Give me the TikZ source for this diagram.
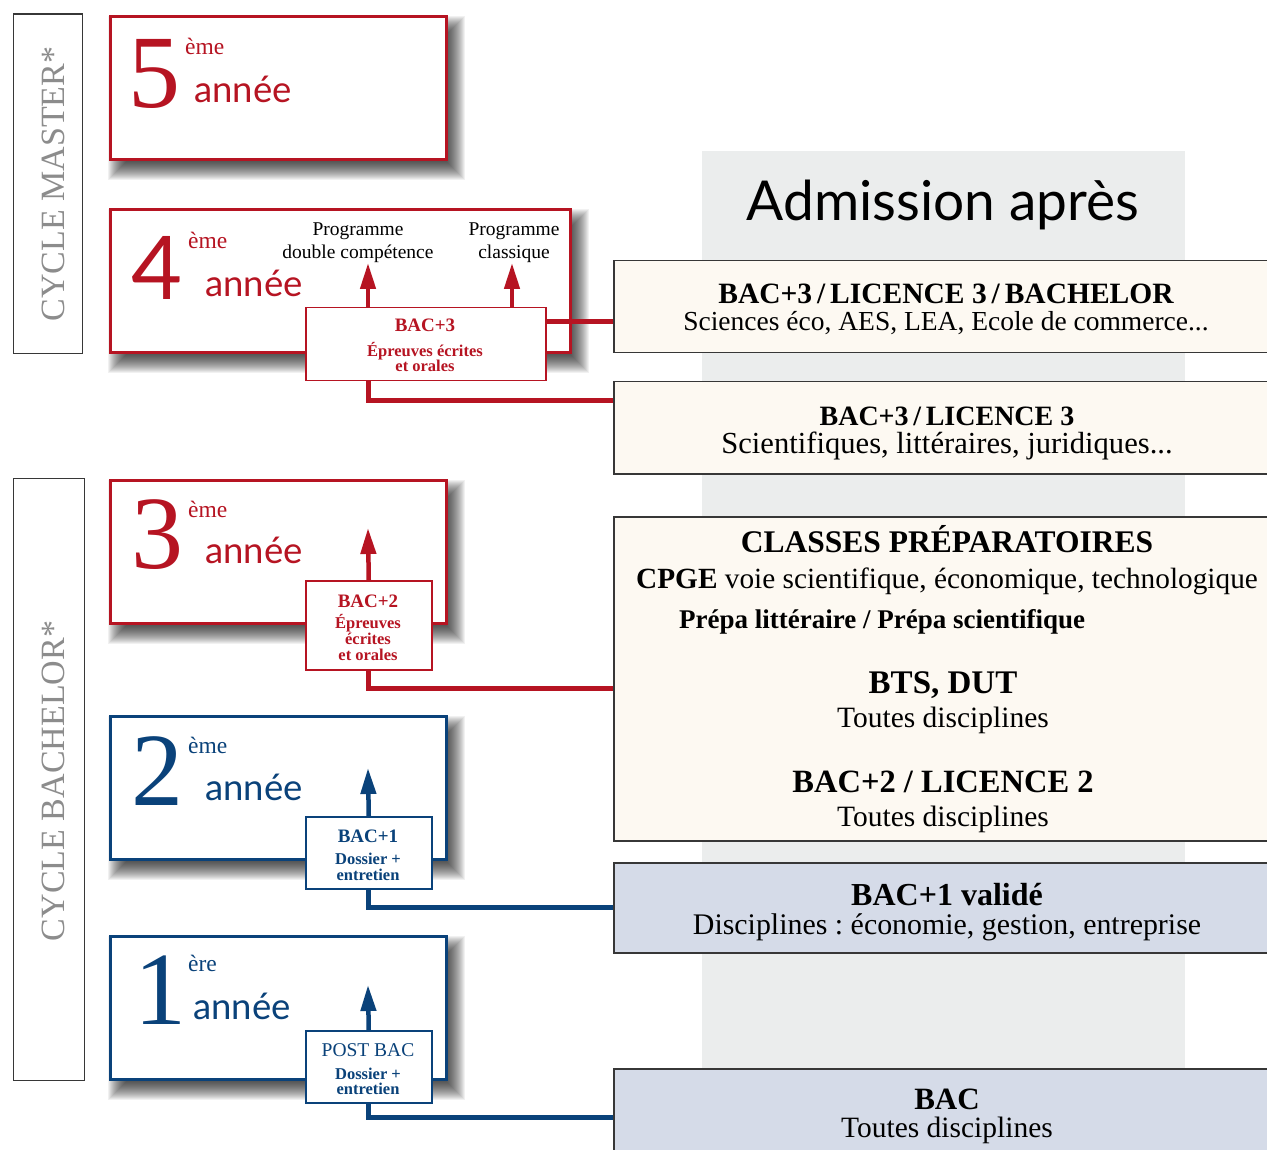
\documentclass[tikz,border=0pt]{standalone}
\usepackage{fontspec}
\setmainfont{Liberation Serif}
\newfontfamily\sansf{Lato}
\usetikzlibrary{arrows.meta,calc}
\definecolor{cred}{RGB}{182,20,34}
\definecolor{cblue}{RGB}{10,66,122}
\definecolor{cgraytxt}{RGB}{140,140,140}
\definecolor{cframe}{RGB}{55,55,55}
\definecolor{ccream}{RGB}{253,249,242}
\definecolor{cbluegray}{RGB}{213,219,232}
\definecolor{ccol}{RGB}{235,237,237}
\frenchspacing
\newcommand\fsz[1]{\fontsize{#1}{#1}\selectfont}
\pgfdeclarelayer{colL}
\pgfdeclarelayer{shadowL}
\pgfsetlayers{colL,shadowL,main}
\newcommand\boxshadow[1]{%
  \foreach \k in {-9,-8,...,9}{%
    \fill[black,opacity=0.055] ($(#1.north west)+(8+\k,10+\k)$) rectangle ($(#1.south east)+(8-\k,10-\k)$);
  }}
\tikzset{
  yearred/.style={draw=cred, line width=3pt, fill=white, anchor=north west, inner sep=0pt},
  yearblue/.style={draw=cblue, line width=3pt, fill=white, anchor=north west, inner sep=0pt},
  lblred/.style={draw=cred, line width=1.5pt, fill=white, anchor=north west, inner sep=0pt},
  lblblue/.style={draw=cblue, line width=1.5pt, fill=white, anchor=north west, inner sep=0pt},
  cyclebox/.style={draw=cframe, line width=1.2pt, fill=white, anchor=north west, inner sep=0pt},
  rbox/.style={draw=cframe, line width=1.5pt, anchor=north west, inner sep=0pt},
  txt/.style={anchor=base, inner sep=0pt},
  txtl/.style={anchor=base west, inner sep=0pt},
  linkred/.style={draw=cred, line width=5pt},
  linkblue/.style={draw=cblue, line width=5pt},
  uparrowred/.style={draw=cred, line width=4.5pt, -{Triangle[width=15pt,length=26pt]}},
  uparrowblue/.style={draw=cblue, line width=4.5pt, -{Triangle[width=15pt,length=26pt]}},
}
\begin{document}
\begin{tikzpicture}[x=1pt,y=-1pt]
\useasboundingbox (0,0) rectangle (1267,1150);
\begin{scope}
\clip (0,0) rectangle (1267,1150);
% gray column
\begin{pgfonlayer}{colL}
\node[fill=ccol, anchor=north west, inner sep=0pt, minimum width=483pt, minimum height=1000pt] (col) at (702,151) {};
\end{pgfonlayer}
\node[txt, font=\sansf\fsz{55}] (adm) at (943,221) {Admission après};

% cycle boxes
\node[cyclebox, minimum width=69.5pt, minimum height=339.5pt] (cm) at (12.5,13.5) {};
\node[cyclebox, minimum width=71pt, minimum height=602pt] (cb) at (12.5,477.5) {};
\node[rotate=90, anchor=base, inner sep=0pt, text=cgraytxt, font=\fsz{34}] (cmt) at (64,184) {CYCLE MASTER*};
\node[rotate=90, anchor=base, inner sep=0pt, text=cgraytxt, font=\fsz{34}] (cbt) at (64,781) {CYCLE BACHELOR*};

% year boxes
\node[yearred, minimum width=336pt, minimum height=143pt] (y5) at (109,15) {};
\node[yearred, minimum width=460pt, minimum height=143pt] (y4) at (109,208) {};
\node[yearred, minimum width=336pt, minimum height=143pt] (y3) at (109,479) {};
\node[yearblue, minimum width=336pt, minimum height=143pt] (y2) at (109,715) {};
\node[yearblue, minimum width=336pt, minimum height=143pt] (y1) at (109,935) {};
\begin{pgfonlayer}{shadowL}
\boxshadow{y5}\boxshadow{y4}\boxshadow{y3}\boxshadow{y2}\boxshadow{y1}
\end{pgfonlayer}

% year texts
\node[txtl, text=cred, font=\fsz{104}] (n5) at (128,108) {5};
\node[txtl, text=cred, font=\fsz{23.5}] (e5) at (185,55) {ème};
\node[txtl, text=cred, font=\sansf\fsz{36.5}] (a5) at (194,103) {année};

\node[txtl, text=cred, font=\sansf\fsz{88}] (n4) at (131,300) {4};
\node[txtl, text=cred, font=\fsz{23.5}] (e4) at (188,249) {ème};
\node[txtl, text=cred, font=\sansf\fsz{36.5}] (a4) at (205,297) {année};

\node[txtl, text=cred, font=\fsz{104}] (n3) at (131,568) {3};
\node[txtl, text=cred, font=\fsz{23.5}] (e3) at (188,517) {ème};
\node[txtl, text=cred, font=\sansf\fsz{36.5}] (a3) at (205,563) {année};

\node[txtl, text=cblue, font=\fsz{104}] (n2) at (131,805) {2};
\node[txtl, text=cblue, font=\fsz{23.5}] (e2) at (188,753) {ème};
\node[txtl, text=cblue, font=\sansf\fsz{36.5}] (a2) at (205,800) {année};

\node[txtl, text=cblue, font=\fsz{104}] (n1) at (134,1024) {1};
\node[txtl, text=cblue, font=\fsz{23.5}] (e1) at (188,971) {ère};
\node[txtl, text=cblue, font=\sansf\fsz{36.5}] (a1) at (193,1019) {année};

% programme texts
\node[txt, font=\fsz{19.5}] (p1a) at (358,236) {Programme};
\node[txt, font=\fsz{19.5}] (p1b) at (358,259) {double compétence};
\node[txt, font=\fsz{19.5}] (p2a) at (514,236) {Programme};
\node[txt, font=\fsz{19.5}] (p2b) at (514,259) {classique};

% label boxes
\node[lblred, minimum width=240pt, minimum height=73pt] (l3) at (305,307) {};
\node[lblred, minimum width=126pt, minimum height=89pt] (l2) at (305,580) {};
\node[lblblue, minimum width=126pt, minimum height=72pt] (l1) at (305,816) {};
\node[lblblue, minimum width=126pt, minimum height=72pt] (l0) at (305,1030) {};

\node[txt, text=cred, font=\bfseries\fsz{19}] (t3a) at (425,332) {BAC+3};
\node[txt, text=cred, font=\bfseries\fsz{16.5}] (t3b) at (425,356) {Épreuves écrites};
\node[txt, text=cred, font=\bfseries\fsz{16.5}] (t3c) at (425,371) {et orales};

\node[txt, text=cred, font=\bfseries\fsz{19}] (t2a) at (368,607) {BAC+2};
\node[txt, text=cred, font=\bfseries\fsz{16.5}] (t2b) at (368,628) {Épreuves};
\node[txt, text=cred, font=\bfseries\fsz{16.5}] (t2c) at (368,644) {écrites};
\node[txt, text=cred, font=\bfseries\fsz{16.5}] (t2d) at (368,660) {et orales};

\node[txt, text=cblue, font=\bfseries\fsz{19}] (t1a) at (368,842) {BAC+1};
\node[txt, text=cblue, font=\bfseries\fsz{16.5}] (t1b) at (368,864) {Dossier +};
\node[txt, text=cblue, font=\bfseries\fsz{16.5}] (t1c) at (368,880) {entretien};

\node[txt, text=cblue, font=\fsz{19.5}] (t0a) at (368,1056) {POST BAC};
\node[txt, text=cblue, font=\bfseries\fsz{16.5}] (t0b) at (368,1079) {Dossier +};
\node[txt, text=cblue, font=\bfseries\fsz{16.5}] (t0c) at (368,1094) {entretien};

% arrows
\coordinate (tipA) at (368,263);
\coordinate (tipB) at (512,263);
\coordinate (tipC) at (368,528);
\coordinate (tipD) at (368,768);
\coordinate (tipE) at (368,985);
\draw[uparrowred] (l3.north -| tipA) -- (tipA);
\draw[uparrowred] (l3.north -| tipB) -- (tipB);
\draw[uparrowred] (l2.north) -- (tipC);
\draw[uparrowblue] (l1.north) -- (tipD);
\draw[uparrowblue] (l0.north) -- (tipE);

% right boxes
\node[rbox, fill=ccream, minimum width=700pt, minimum height=92pt] (r1) at (613,260) {};
\node[rbox, fill=ccream, minimum width=700pt, minimum height=92pt] (r2) at (613,381) {};
\node[rbox, fill=ccream, minimum width=700pt, minimum height=324pt] (r3) at (613,516) {};
\node[rbox, fill=cbluegray, minimum width=700pt, minimum height=90pt] (r4) at (613,862) {};
\node[rbox, fill=cbluegray, minimum width=700pt, minimum height=120pt] (r5) at (613,1068) {};

% links
\draw[linkred] ($(l3.north east)+(0,15)$) -- ($(r1.north west)+(0,62)$);
\draw[linkred] ($(l3.south west)+(63,0)$) |- ($(r2.north west)+(0,19)$);
\draw[linkred] (l2.south) |- ($(r3.north west)+(0,172)$);
\draw[linkblue] (l1.south) |- ($(r4.north west)+(0,45)$);
\draw[linkblue] (l0.south) |- ($(r5.north west)+(0,49)$);

% right texts
\node[txt, font=\bfseries\fsz{29.5}] (r1a) at (946,304) {BAC+3\,/\,LICENCE 3\,/\,BACHELOR};
\node[txt, font=\fsz{27.5}] (r1b) at (946,331) {Sciences éco, AES, LEA, Ecole de commerce...};
\node[txt, font=\bfseries\fsz{28}] (r2a) at (947,425) {BAC+3\,/\,LICENCE 3};
\node[txt, font=\fsz{30.6}] (r2b) at (947,453) {Scientifiques, littéraires, juridiques...};
\node[txt, font=\bfseries\fsz{31.5}] (r3a) at (947,552) {CLASSES PRÉPARATOIRES};
\node[txt, font=\fsz{29.3}] (r3b) at (947,588) {{\bfseries CPGE} voie scientifique, économique, technologique};
\node[txtl, font=\bfseries\fsz{27}] (r3c) at (679,628) {Prépa littéraire / Prépa scientifique};
\node[txt, font=\bfseries\fsz{33}] (r3d) at (943,693) {BTS, DUT};
\node[txt, font=\fsz{29.5}] (r3e) at (943,727) {Toutes disciplines};
\node[txt, font=\bfseries\fsz{32.5}] (r3f) at (943,792) {BAC+2 / LICENCE 2};
\node[txt, font=\fsz{29.5}] (r3g) at (943,826) {Toutes disciplines};
\node[txt, font=\bfseries\fsz{32}] (r4a) at (947,905) {BAC+1 validé};
\node[txt, font=\fsz{29.9}] (r4b) at (947,934) {Disciplines : économie, gestion, entreprise};
\node[txt, font=\bfseries\fsz{31}] (r5a) at (947,1109) {BAC};
\node[txt, font=\fsz{29.5}] (r5b) at (947,1137) {Toutes disciplines};
\end{scope}
\end{tikzpicture}
\end{document}
